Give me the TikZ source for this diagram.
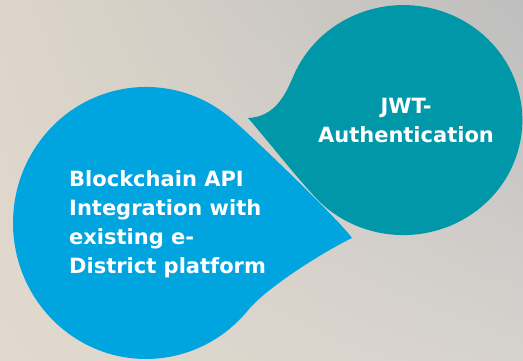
\documentclass[tikz,border=0pt]{standalone}
\usepackage{fontspec}
\setmainfont{DejaVu Sans}
\usetikzlibrary{shadings}
\definecolor{tealdrop}{RGB}{0,152,168}
\definecolor{bluedrop}{RGB}{0,165,224}
\definecolor{bgtl}{RGB}{221,213,201}
\definecolor{bgtr}{RGB}{190,190,190}
\definecolor{bgbl}{RGB}{225,217,205}
\definecolor{bgbr}{RGB}{214,210,206}
\tikzset{
  drop/.style={line join=round},
  drop label/.style={text=white,inner sep=0pt,
    font={\bfseries\fontsize{21}{29}\selectfont}},
}

\begin{document}
\begin{tikzpicture}[x=1pt,y=1pt]
    \shade[upper left=bgtl,upper right=bgtr,lower left=bgbl,lower right=bgbr]
        (0,0) rectangle (523,361);
    \useasboundingbox (0,0) rectangle (523,361);

    % teal drop, tip to the left
    \coordinate (tealtip) at (248,243);
    \fill[drop,tealdrop] (tealtip) .. controls (274,244) and (285,265) .. (293,284)
        arc[start angle=158,end angle=-132,x radius=119,y radius=115]
        .. controls (308.3,168.6) and (261.4,228.2) .. (tealtip) -- cycle;

    % blue drop, tip to the right
    \coordinate (bluetip) at (352,123);
    \fill[drop,bluedrop] (231.5,242.2)
        arc[start angle=50,end angle=320,x radius=133,y radius=136]
        .. controls (267,74) and (325,110) .. (bluetip)
        .. controls (340,140) and (255,222) .. (231.5,242.2) -- cycle;

    \node[drop label,align=center,anchor=north] (jwt) at (406,263) {JWT-\\Authentication};
    \node[drop label,align=left,anchor=north west] (api) at (69,191)
        {Blockchain API\\Integration with\\existing e-\\District platform};
\end{tikzpicture}
\end{document}
